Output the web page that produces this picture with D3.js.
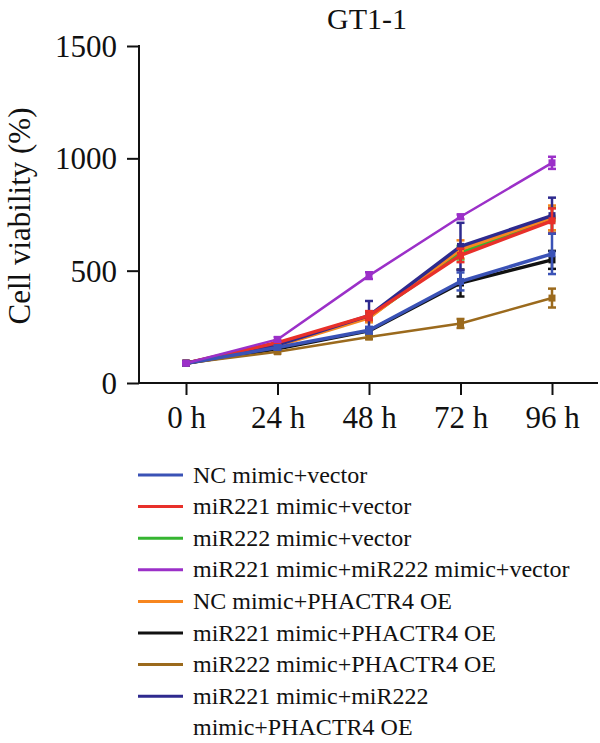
<!DOCTYPE html>
<html><head><meta charset="utf-8">
<script src="https://cdn.jsdelivr.net/npm/d3@7"></script>
<style>body{margin:0;background:#fff}svg{display:block}</style>
</head><body><svg id="c" width="600" height="743"></svg>
<script>
const times = ["0 h","24 h","48 h","72 h","96 h"];
const seriesNames = ["NC mimic+vector","miR221 mimic+vector","miR222 mimic+vector","miR221 mimic+miR222 mimic+vector","NC mimic+PHACTR4 OE","miR221 mimic+PHACTR4 OE","miR222 mimic+PHACTR4 OE","miR221 mimic+miR222 mimic+PHACTR4 OE"];
const legendLabels = [["NC mimic+vector"],["miR221 mimic+vector"],["miR222 mimic+vector"],["miR221 mimic+miR222 mimic+vector"],["NC mimic+PHACTR4 OE"],["miR221 mimic+PHACTR4 OE"],["miR222 mimic+PHACTR4 OE"],["miR221 mimic+miR222","mimic+PHACTR4 OE"]];
const colors = ["#3a52b6","#e8302a","#35b531","#9b30c8","#f7861f","#111111","#9b6a1d","#2e2a8e"];
const ncVector = [88,158,235,452,575];
const mir221Vector = [88,180,300,568,722];
const mir222Vector = [88,175,295,580,730];
const mir221222Vector = [88,194,478,740,980];
const ncOE = [88,165,290,595,735];
const mir221OE = [88,152,232,445,548];
const mir222OE = [88,139,205,265,378];
const mir221222OE = [88,170,300,608,745];
const errNcVector = [5,10,15,40,90];
const errMir221Vector = [5,10,20,30,55];
const errMir222Vector = [5,10,18,30,50];
const errMir221222Vector = [5,10,15,10,27];
const errNcOE = [5,10,20,40,55];
const errMir221OE = [5,8,15,60,40];
const errMir222OE = [5,8,10,20,42];
const errMir221222OE = [5,10,65,105,80];
const yTicks = [0,500,1000,1500];

const FONT = "'Liberation Serif', 'DejaVu Serif', serif";
const values = [ncVector,mir221Vector,mir222Vector,mir221222Vector,ncOE,mir221OE,mir222OE,mir221222OE];
const errs = [errNcVector,errMir221Vector,errMir222Vector,errMir221222Vector,errNcOE,errMir221OE,errMir222OE,errMir221222OE];
const drawOrder = [2,4,5,6,7,1,0,3];

const svg = d3.select("#c");
const x = d3.scalePoint().domain(times).range([186,552]);
const y = d3.scaleLinear().domain([0,1500]).range([383,46]);

// axes
const yAx = svg.append("g").attr("transform","translate(139,0)")
  .call(d3.axisLeft(y).tickValues(yTicks).tickFormat(d3.format("d")).tickSize(12).tickPadding(10).tickSizeOuter(0));
yAx.attr("font-family",null);
yAx.select(".domain").remove();
yAx.selectAll(".tick line").attr("stroke","#111").attr("stroke-width",2);
yAx.selectAll(".tick text").attr("font-size",31).style("font-family",FONT).attr("fill","#111").attr("dy","0.34em");
svg.append("line").attr("x1",139).attr("x2",139).attr("y1",y(1500)-1).attr("y2",y(0)+1).attr("stroke","#111").attr("stroke-width",2);

const xAx = svg.append("g").attr("transform","translate(0,383)")
  .call(d3.axisBottom(x).tickSize(12).tickPadding(10).tickSizeOuter(0));
xAx.attr("font-family",null);
xAx.select(".domain").remove();
xAx.selectAll(".tick line").attr("stroke","#111").attr("stroke-width",2);
xAx.selectAll(".tick text").attr("font-size",31).style("font-family",FONT).attr("fill","#111").attr("dy","0.75em");
svg.append("line").attr("x1",139).attr("x2",598).attr("y1",383).attr("y2",383).attr("stroke","#111").attr("stroke-width",2);

// title & axis label
svg.append("text").attr("x",367).attr("y",29).attr("text-anchor","middle").attr("font-size",30).style("font-family",FONT).attr("fill","#111").text("GT1-1");
svg.append("text").attr("transform","translate(30,216) rotate(-90)").attr("text-anchor","middle").attr("font-size",31).style("font-family",FONT).attr("fill","#111").text("Cell viability (%)");

// series
const line = d3.line().x((d,i)=>x(times[i])).y(d=>y(d));
drawOrder.forEach(si=>{
  const g = svg.append("g");
  const c = colors[si];
  values[si].forEach((v,i)=>{
    const e = errs[si][i], cx = x(times[i]);
    g.append("line").attr("x1",cx).attr("x2",cx).attr("y1",y(v+e)).attr("y2",y(v-e)).attr("stroke",c).attr("stroke-width",2.5);
    g.append("line").attr("x1",cx-4).attr("x2",cx+4).attr("y1",y(v+e)).attr("y2",y(v+e)).attr("stroke",c).attr("stroke-width",2.5);
    g.append("line").attr("x1",cx-4).attr("x2",cx+4).attr("y1",y(v-e)).attr("y2",y(v-e)).attr("stroke",c).attr("stroke-width",2.5);
  });
  g.append("path").datum(values[si]).attr("d",line).attr("fill","none").attr("stroke",c).attr("stroke-width",si===6||si===3?2.5:3.5).attr("stroke-linejoin","round");
  g.selectAll("rect").data(values[si]).join("rect")
    .attr("x",(d,i)=>x(times[i])-3.5).attr("y",d=>y(d)-3.5).attr("width",7).attr("height",7).attr("fill",c);
});

// legend
let rowY = 475;
legendLabels.forEach((lab,i)=>{
  svg.append("line").attr("x1",138).attr("x2",183).attr("y1",rowY).attr("y2",rowY).attr("stroke",colors[i]).attr("stroke-width",3);
  lab.forEach((t,k)=>{
    svg.append("text").attr("x",193).attr("y",rowY+k*31.6).attr("dy","0.32em").attr("font-size",24).style("font-family",FONT).attr("fill","#111").text(t);
  });
  rowY += 31.6;
});
</script></body></html>
